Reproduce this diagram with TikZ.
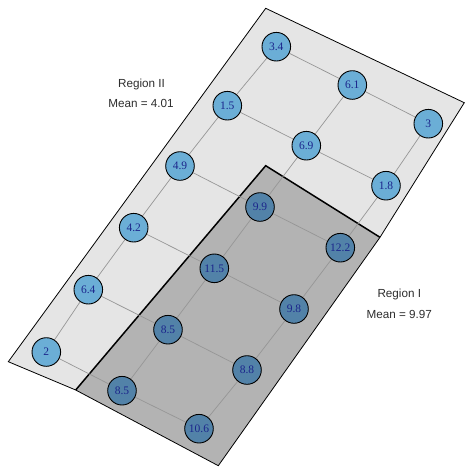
\documentclass[tikz,border=0pt]{standalone}
\usepackage{fontspec}
\setmainfont{Liberation Serif}
\newfontfamily\labelfont{Liberation Sans}
\definecolor{regionlight}{RGB}{229,229,229}
\definecolor{regiondark}{RGB}{179,179,179}
\definecolor{celllight}{RGB}{107,174,214}
\definecolor{celldark}{RGB}{82,130,168}
\definecolor{cellink}{RGB}{28,38,140}
\definecolor{gridgray}{RGB}{150,150,150}
\definecolor{labelink}{RGB}{45,45,45}
\tikzset{
  cellA/.style={circle, draw=black, line width=0.9pt, fill=celllight, minimum size=28.6pt,
    inner sep=0pt, text=cellink, font=\fontsize{11.5}{12}\selectfont},
  cellB/.style={cellA, fill=celldark},
  gridline/.style={gridgray, line width=0.7pt},
  regionlabel/.style={text=labelink, font=\labelfont\fontsize{11.7}{13}\selectfont, inner sep=0pt}
}
\begin{document}
\begin{tikzpicture}[x=1pt, y=-1pt]
\useasboundingbox (0,0) rectangle (465,467);

% region outlines
\coordinate (rtop) at (265.7,8.3);
\coordinate (rright) at (464.3,102.7);
\coordinate (rmid) at (380,237.3);
\coordinate (rnotch) at (265.7,165.7);
\coordinate (rfoot) at (75.7,390);
\coordinate (rleft) at (8.3,361.7);
\coordinate (rbottom) at (218.3,465.7);

\fill[regionlight] (rtop) -- (rright) -- (rmid) -- (rnotch) -- (rfoot) -- (rleft) -- cycle;
\draw[line width=0.8pt] (rmid) -- (rright) -- (rtop) -- (rleft) -- (rfoot);
\fill[regiondark] (rnotch) -- (rmid) -- (rbottom) -- (rfoot) -- cycle;
\draw[line width=0.8pt] (rmid) -- (rbottom) -- (rfoot);
\draw[line width=1.5pt] (rfoot) -- (rnotch) -- (rmid);

% cells: rows run down-left, columns run down-right
\coordinate (p00) at (276.3,46.7);
\coordinate (p01) at (352.3,85);
\coordinate (p02) at (428.3,123.7);
\coordinate (p10) at (227.3,105.7);
\coordinate (p11) at (306.3,145.7);
\coordinate (p12) at (386,185.7);
\coordinate (p20) at (180,166);
\coordinate (p21) at (260,207);
\coordinate (p22) at (340.3,247.7);
\coordinate (p30) at (133.7,227.7);
\coordinate (p31) at (214.3,268.3);
\coordinate (p32) at (294,309);
\coordinate (p40) at (88.3,289.7);
\coordinate (p41) at (168,329.7);
\coordinate (p42) at (247,370);
\coordinate (p50) at (46.3,352);
\coordinate (p51) at (122,390.7);
\coordinate (p52) at (199,428.7);

% neighbour links
\foreach \r in {0,...,5}{
  \draw[gridline] (p\r0) -- (p\r1) -- (p\r2);
}
\foreach \c in {0,1,2}{
  \draw[gridline] (p0\c) -- (p1\c) -- (p2\c) -- (p3\c) -- (p4\c) -- (p5\c);
}

\node[cellA] (n00) at (p00) {3.4};
\node[cellA] (n01) at (p01) {6.1};
\node[cellA] (n02) at (p02) {3};
\node[cellA] (n10) at (p10) {1.5};
\node[cellA] (n11) at (p11) {6.9};
\node[cellA] (n12) at (p12) {1.8};
\node[cellA] (n20) at (p20) {4.9};
\node[cellB] (n21) at (p21) {9.9};
\node[cellB] (n22) at (p22) {12.2};
\node[cellA] (n30) at (p30) {4.2};
\node[cellB] (n31) at (p31) {11.5};
\node[cellB] (n32) at (p32) {9.8};
\node[cellA] (n40) at (p40) {6.4};
\node[cellB] (n41) at (p41) {8.5};
\node[cellB] (n42) at (p42) {8.8};
\node[cellA] (n50) at (p50) {2};
\node[cellB] (n51) at (p51) {8.5};
\node[cellB] (n52) at (p52) {10.6};

% region captions
\node[regionlabel] (lab2a) at (141.5,84) {Region II};
\node[regionlabel] (lab2b) at (141,103.7) {Mean = 4.01};
\node[regionlabel] (lab1a) at (399.3,294) {Region I};
\node[regionlabel] (lab1b) at (399.3,314.3) {Mean = 9.97};
\end{tikzpicture}
\end{document}
